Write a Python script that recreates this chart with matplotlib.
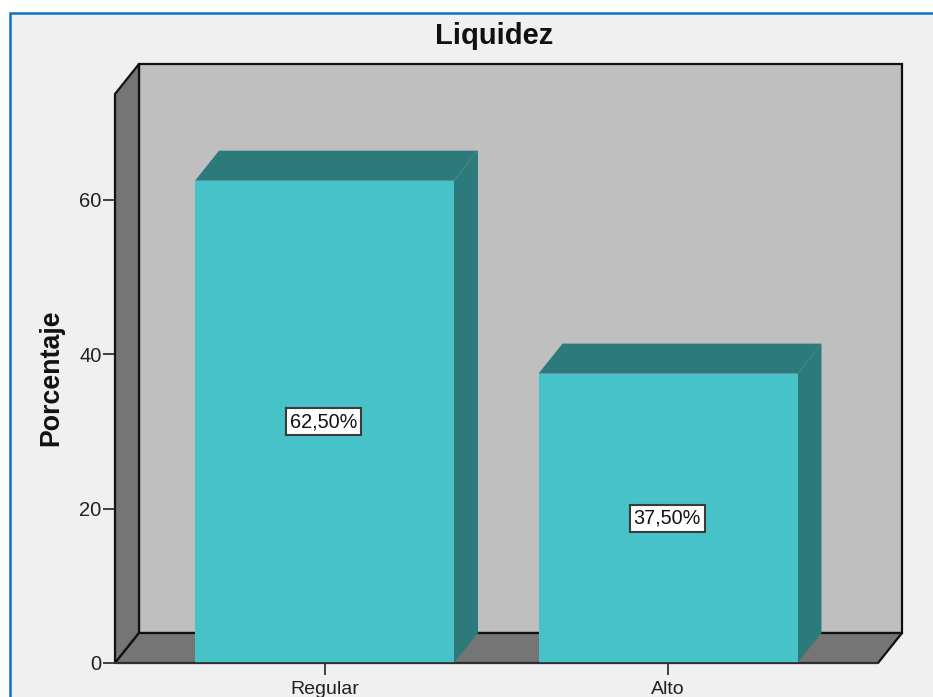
import matplotlib
matplotlib.use("Agg")
import matplotlib.pyplot as plt
from matplotlib.patches import Polygon, Rectangle

categorias = ["Regular", "Alto"]
porcentajes = [62.5, 37.5]
etiquetas = ["62,50%", "37,50%"]
ticks_y = [0, 20, 40, 60]

plt.rcParams['font.family'] = ['Liberation Sans', 'DejaVu Sans']

W, H = 933, 697
fig = plt.figure(figsize=(W / 100, H / 100), dpi=100, facecolor="white")

# panel gris con borde azul arriba y a la izquierda
fig.add_artist(Rectangle((10 / W, -0.1), 1, 1.1 - 13.5 / H, transform=fig.transFigure,
                         facecolor="#f0f0f0", edgecolor="#0a72c4", linewidth=1.8, zorder=-1))

# ejes: de x=115 a x=902 px, de y=663 a y=64 px
ax = fig.add_axes([115 / W, (H - 663) / H, (902 - 115) / W, (663 - 64) / H])
ax.patch.set_visible(False)
px_x = 343.5  # px por categoria
px_y = 7.717  # px por unidad
x0 = (324.5 - 115) / px_x
ax.set_xlim(-x0, (902 - 115) / px_x - x0)
ax.set_ylim(0, (663 - 64) / px_y)

dx = 24 / px_x  # profundidad 3D
dy = 30 / px_y
ancho = 259 / px_x
izq, der = ax.get_xlim()
der_f = der - dx
techo = ax.get_ylim()[1]
negro = "#111111"

# pared del fondo, pared lateral, suelo
ax.add_patch(Polygon([(izq + dx, dy), (der, dy), (der, techo), (izq + dx, techo)],
                     facecolor="#bfbfbf", edgecolor=negro, linewidth=1.6, zorder=1, clip_on=False))
ax.add_patch(Polygon([(izq, 0), (izq + dx, dy), (izq + dx, techo), (izq, techo - dy)],
                     facecolor="#757575", edgecolor=negro, linewidth=1.6, zorder=2, clip_on=False))
ax.add_patch(Polygon([(izq, 0), (der_f, 0), (der, dy), (izq + dx, dy)],
                     facecolor="#757575", edgecolor=negro, linewidth=1.6, zorder=2, clip_on=False))

# barras
pos = list(range(len(categorias)))
for i, v in zip(pos, porcentajes):
    a = i - ancho / 2
    b = i + ancho / 2
    ax.add_patch(Polygon([(a, v), (a + dx, v + dy), (b + dx, v + dy), (b, v)],
                         facecolor="#2d7a7c", edgecolor="none", zorder=3, clip_on=False))
    ax.add_patch(Polygon([(b, 0), (b + dx, dy), (b + dx, v + dy), (b, v)],
                         facecolor="#2d7a7c", edgecolor="none", zorder=3, clip_on=False))
bars = ax.bar(pos, porcentajes, width=ancho, color="#47c2c8", zorder=4)

for i, v, t in zip(pos, porcentajes, etiquetas):
    ax.text(i - 0.002, v / 2, t, ha="center", va="center", fontsize=14.3, color="#111111", zorder=6,
            bbox=dict(boxstyle="square,pad=0.2", facecolor="white", edgecolor="#3a3a3a", linewidth=1.5))

for n, s in ax.spines.items():
    s.set_visible(n == "bottom")
ax.spines["bottom"].set_bounds(izq, der_f)
ax.spines["bottom"].set_color("#333333")
ax.spines["bottom"].set_linewidth(1.3)
ax.spines["bottom"].set_zorder(5)
ax.set_xticks(pos)
ax.set_xticklabels(categorias, fontsize=14, color="#222222")
ax.set_yticks(ticks_y)
ax.tick_params(axis="y", length=8.6, width=1.2, color="#222222", labelsize=14.5, labelcolor="#222222", pad=1)
ax.tick_params(axis="x", length=8.6, width=1.2, color="#222222", pad=4.5)

ax.set_ylabel("Porcentaje", fontsize=19.3, fontweight="bold", labelpad=0, color="#111111")
ax.yaxis.set_label_coords((64 - 115) / (902 - 115), (663 - 378) / (663 - 64))
fig.text(494 / W, 1 - 36 / H, "Liquidez", ha="center", va="center", fontsize=21, fontweight="bold", color="#111111")

fig.savefig("out.png", dpi=100, facecolor=fig.get_facecolor())
